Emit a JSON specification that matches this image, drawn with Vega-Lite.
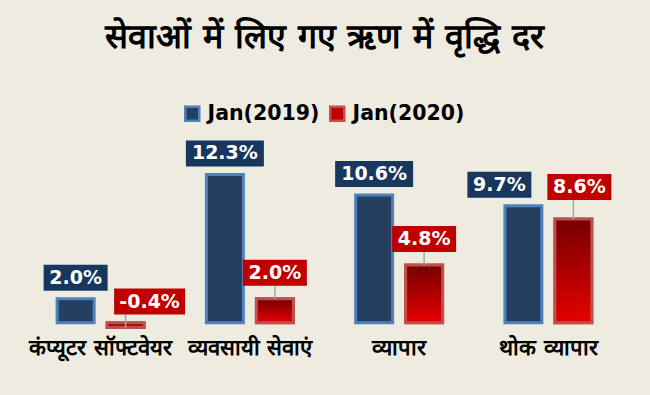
{
  "$schema": "https://vega.github.io/schema/vega-lite/v6.json",
  "autosize": {"type": "none"},
  "padding": {"left": 26, "top": 154, "right": 27, "bottom": 65},
  "width": 597,
  "height": 176,
  "background": "#EEECE1",
  "title": {
    "text": "सेवाओं में लिए गए ऋण में वृद्धि दर",
    "fontSize": 34,
    "fontWeight": "bold",
    "color": "#000000",
    "anchor": "middle",
    "offset": 48
  },
  "data": {
    "values": [
      {"cat": "कंप्यूटर सॉफ्टवेयर", "s": "Jan(2019)", "v": 2.0},
      {"cat": "कंप्यूटर सॉफ्टवेयर", "s": "Jan(2020)", "v": -0.4},
      {"cat": "व्यवसायी सेवाएं", "s": "Jan(2019)", "v": 12.3},
      {"cat": "व्यवसायी सेवाएं", "s": "Jan(2020)", "v": 2.0},
      {"cat": "व्यापार", "s": "Jan(2019)", "v": 10.6},
      {"cat": "व्यापार", "s": "Jan(2020)", "v": 4.8},
      {"cat": "थोक व्यापार", "s": "Jan(2019)", "v": 9.7},
      {"cat": "थोक व्यापार", "s": "Jan(2020)", "v": 8.6}
    ]
  },
  "transform": [
    {"calculate": "(datum.v < 0 ? '-' : '') + format(abs(datum.v), '.1f') + '%'", "as": "label"}
  ],
  "encoding": {
    "x": {
      "field": "cat", "type": "nominal", "sort": null,
      "scale": {"paddingInner": 0, "paddingOuter": 0},
      "axis": {
        "title": null, "domain": false, "ticks": false, "labelAngle": 0,
        "labelFontSize": 22, "labelFontWeight": "bold", "labelColor": "#000000", "labelPadding": 7,
        "labelBaseline": "top"
      }
    },
    "xOffset": {
      "field": "s", "type": "nominal",
      "scale": {"paddingInner": 0.26, "paddingOuter": 0.6225}
    },
    "y": {
      "field": "v", "type": "quantitative",
      "scale": {"domain": [-0.6, 14], "nice": false, "zero": false},
      "axis": null
    }
  },
  "layer": [
    {
      "mark": {"type": "bar", "strokeWidth": 3},
      "encoding": {
        "fill": {
          "field": "s", "type": "nominal",
          "scale": {"range": ["#243F60", "#C00000"]},
          "legend": {
            "orient": "none", "legendX": 156, "legendY": -51,
            "direction": "horizontal", "title": null, "padding": 0,
            "symbolType": "square", "symbolSize": 196, "symbolStrokeWidth": 2.5,
            "labelFont": "DejaVu Sans", "labelFontSize": 20.5, "labelFontWeight": "bold",
            "labelColor": "#000000", "labelOffset": 5, "columnPadding": 5
          }
        },
        "stroke": {
          "field": "s", "type": "nominal",
          "scale": {"range": ["#4F81BD", "#C0504D"]},
          "legend": {
            "orient": "none", "legendX": 156, "legendY": -51,
            "direction": "horizontal", "title": null, "padding": 0,
            "symbolType": "square", "symbolSize": 196, "symbolStrokeWidth": 2.5,
            "labelFont": "DejaVu Sans", "labelFontSize": 20.5, "labelFontWeight": "bold",
            "labelColor": "#000000", "labelOffset": 5, "columnPadding": 5
          }
        }
      }
    },
    {
      "transform": [{"filter": "datum.s === 'Jan(2020)'"}],
      "mark": {
        "type": "bar", "strokeWidth": 3, "stroke": "#C0504D",
        "fill": {
          "gradient": "linear", "x1": 0, "y1": 0, "x2": 0, "y2": 1,
          "stops": [{"offset": 0, "color": "#760000"}, {"offset": 1, "color": "#E60000"}]
        }
      }
    },
    {
      "transform": [{"filter": "datum.s === 'Jan(2020)' && datum.cat !== 'थोक व्यापार'"}],
      "mark": {"type": "rule", "color": "#A6A6A6", "strokeWidth": 1.5, "y2Offset": -13},
      "encoding": {"y2": {"field": "v"}}
    },
    {
      "transform": [{"filter": "datum.s === 'Jan(2020)' && datum.cat === 'थोक व्यापार'"}],
      "mark": {"type": "rule", "color": "#A6A6A6", "strokeWidth": 1.5, "y2Offset": -19},
      "encoding": {"y2": {"field": "v"}}
    },
    {
      "transform": [{"filter": "datum.s === 'Jan(2019)'"}],
      "mark": {"type": "point", "filled": true, "opacity": 1, "fill": "#17375E", "strokeWidth": 0, "size": 6084, "yOffset": -21},
      "encoding": {
        "shape": {
          "condition": [
            {"test": "datum.cat === 'थोक व्यापार'", "value": "M-1.4359,-0.3333H0.2051V0.3333H-1.4359Z"},
            {"test": "length(datum.label) >= 5", "value": "M-1,-0.3333H1V0.3333H-1Z"}
          ],
          "value": "M-0.8205,-0.3333H0.8205V0.3333H-0.8205Z"
        }
      }
    },
    {
      "transform": [{"filter": "datum.s === 'Jan(2019)' && datum.cat !== 'थोक व्यापार'"}],
      "mark": {"type": "text", "color": "#FFFFFF", "font": "DejaVu Sans", "fontSize": 19, "fontWeight": "bold", "baseline": "middle", "dy": -21},
      "encoding": {"text": {"field": "label"}}
    },
    {
      "transform": [{"filter": "datum.s === 'Jan(2019)' && datum.cat === 'थोक व्यापार'"}],
      "mark": {"type": "text", "color": "#FFFFFF", "font": "DejaVu Sans", "fontSize": 19, "fontWeight": "bold", "baseline": "middle", "dy": -21, "dx": -24},
      "encoding": {"text": {"field": "label"}}
    },
    {
      "transform": [{"filter": "datum.s === 'Jan(2020)'"}],
      "mark": {"type": "point", "filled": true, "opacity": 1, "fill": "#C00000", "strokeWidth": 0, "size": 6084, "yOffset": -26},
      "encoding": {
        "shape": {
          "condition": [
            {"test": "datum.v < 0", "value": "M-0.2949,-0.3333H1.5257V0.3333H-0.2949Z"},
            {"test": "datum.cat === 'थोक व्यापार'", "value": "M-0.6667,-0.4872H0.9743V0.1795H-0.6667Z"}
          ],
          "value": "M-0.8205,-0.3333H0.8205V0.3333H-0.8205Z"
        }
      }
    },
    {
      "transform": [{"filter": "datum.s === 'Jan(2020)' && datum.v >= 0 && datum.cat !== 'थोक व्यापार'"}],
      "mark": {"type": "text", "color": "#FFFFFF", "font": "DejaVu Sans", "fontSize": 19, "fontWeight": "bold", "baseline": "middle", "dy": -26},
      "encoding": {"text": {"field": "label"}}
    },
    {
      "transform": [{"filter": "datum.s === 'Jan(2020)' && datum.v < 0"}],
      "mark": {"type": "text", "color": "#FFFFFF", "font": "DejaVu Sans", "fontSize": 19, "fontWeight": "bold", "baseline": "middle", "dy": -26, "dx": 24},
      "encoding": {"text": {"field": "label"}}
    },
    {
      "transform": [{"filter": "datum.s === 'Jan(2020)' && datum.cat === 'थोक व्यापार'"}],
      "mark": {"type": "text", "color": "#FFFFFF", "font": "DejaVu Sans", "fontSize": 19, "fontWeight": "bold", "baseline": "middle", "dy": -32, "dx": 6},
      "encoding": {"text": {"field": "label"}}
    }
  ],
  "config": {
    "view": {"stroke": null},
    "font": "DejaVu Sans"
  }
}
